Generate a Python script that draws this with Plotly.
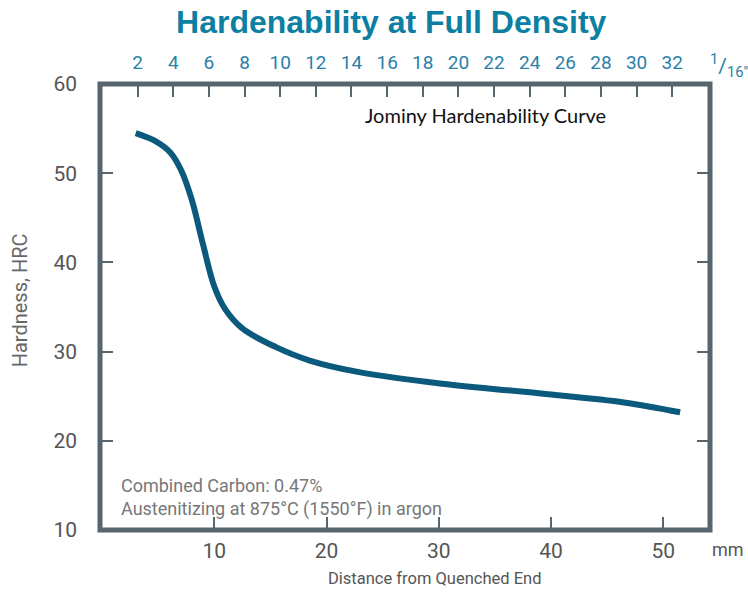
import plotly.graph_objects as go

# distance from quenched end (mm) and hardness (HRC)
distance_mm = [3.0, 4.6, 6.1, 7.1, 8.0, 9.0, 10.0, 11.0, 12.5, 15.5, 18.5, 22.9, 30.3, 39.1, 46.5, 51.5]
hardness_hrc = [54.5, 53.7, 52.3, 50.2, 47.0, 42.0, 37.3, 34.7, 32.6, 30.5, 29.0, 27.7, 26.4, 25.3, 24.3, 23.2]

mm_ticks = [10, 20, 30, 40, 50]
sixteenth_ticks = list(range(2, 33, 2))
hrc_ticks = [10, 20, 30, 40, 50, 60]

FRAME = "#56656e"
CURVE = "#0b5a7e"
TEAL = "#2a80a8"
SANS = "Roboto, sans-serif"

fig = go.Figure()
fig.add_trace(go.Scatter(x=distance_mm, y=hardness_hrc, mode="lines",
                         line=dict(color=CURVE, width=6, shape="spline", smoothing=1),
                         hoverinfo="skip", showlegend=False))
# dummy trace so the top (1/16 inch) axis gets drawn
fig.add_trace(go.Scatter(x=sixteenth_ticks, y=[None] * len(sixteenth_ticks), xaxis="x2",
                         mode="markers", showlegend=False, hoverinfo="skip"))

fig.update_layout(
    width=748, height=593,
    margin=dict(l=100, r=38, t=84, b=63),
    paper_bgcolor="white", plot_bgcolor="white",
    title=dict(text="<b>Hardenability at Full Density</b>", x=0.523, xanchor="center",
               y=0.963, yanchor="middle",
               font=dict(family="Liberation Sans, Arial, sans-serif", size=32, color="#0c7fa3")),
    xaxis=dict(range=[-0.18, 54.16], tickvals=mm_ticks, ticks="inside", ticklen=13,
               tickwidth=2, tickcolor=FRAME, showgrid=False, zeroline=False, automargin=False,
               tickfont=dict(family=SANS, size=21, color="#555"),
               ticklabelstandoff=6),
    xaxis2=dict(range=[-0.113, 34.12], overlaying="x", side="top", tickvals=sixteenth_ticks,
                ticks="inside", ticklen=13, tickwidth=2, tickcolor=FRAME, showgrid=False,
                zeroline=False, automargin=False,
                tickfont=dict(family=SANS, size=19, color=TEAL),
                ticklabelstandoff=10),
    yaxis=dict(range=[10, 60], tickvals=hrc_ticks, ticks="inside", ticklen=13, tickwidth=2,
               tickcolor=FRAME, mirror="ticks", showgrid=False, zeroline=False, automargin=False,
               tickfont=dict(family=SANS, size=21, color="#555"),
               ticklabelstandoff=22),
    shapes=[dict(type="rect", xref="paper", yref="paper", x0=0, x1=1, y0=0, y1=1,
                 line=dict(color=FRAME, width=5), layer="above")],
    annotations=[
        dict(text="Hardness, HRC", xref="paper", yref="paper", x=0, xshift=-80, y=0.515,
             xanchor="center", yanchor="middle", textangle=-90, showarrow=False,
             font=dict(family=SANS, size=20, color="#666")),
        dict(text="Jominy Hardenability Curve", xref="x", yref="y", x=34.2, y=56.5,
             xanchor="center", yanchor="middle", showarrow=False,
             font=dict(family="Lato, sans-serif", size=20, color="#111")),
        dict(text="Combined Carbon: 0.47%<br>Austenitizing at 875°C (1550°F) in argon",
             xref="x", yref="y", x=1.5, y=13.6, xanchor="left", yanchor="middle", align="left",
             showarrow=False, font=dict(family=SANS, size=18, color="#777")),
        dict(text="mm", xref="paper", yref="paper", x=1.0, xshift=18, y=0, yshift=-19,
             xanchor="center", yanchor="middle", showarrow=False,
             font=dict(family=SANS, size=18, color="#555")),
        dict(text="Distance from Quenched End", xref="x", yref="paper", x=29.6, y=0,
             yshift=-48, xanchor="center", yanchor="middle", showarrow=False,
             font=dict(family=SANS, size=16.5, color="#555")),
        dict(text="<sup>1</sup>/<sub>16\"</sub>", xref="paper", yref="paper", x=1.0, xshift=19,
             y=1, yshift=19, xanchor="center", yanchor="middle", showarrow=False,
             font=dict(family=SANS, size=21, color=TEAL)),
    ],
)

# page body has an 8px default margin; drop it so the figure sits at the window corner
fig.write_html("out.html", config={"displayModeBar": False},
               post_script="document.body.style.margin='0';")
